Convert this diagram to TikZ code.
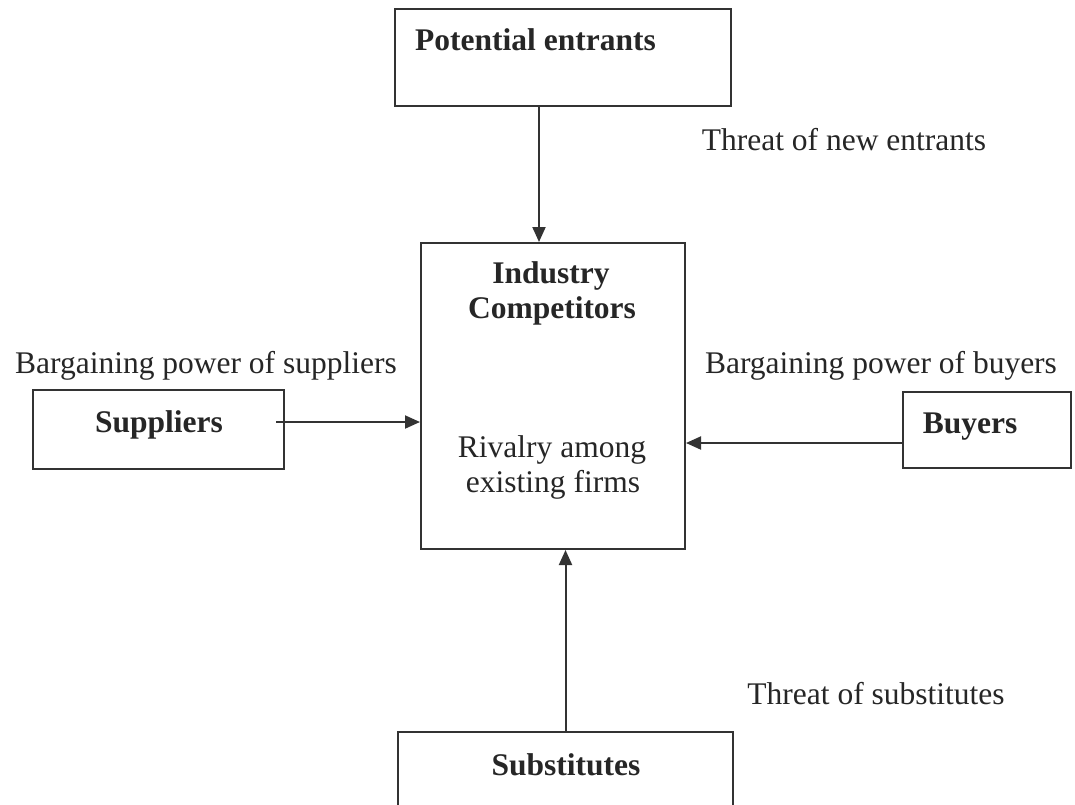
\documentclass[tikz,border=0pt]{standalone}
\usepackage{fontspec}
\setmainfont{Liberation Serif}
\usetikzlibrary{arrows.meta}
\definecolor{ink}{HTML}{262626}
\definecolor{linec}{HTML}{333333}
\begin{document}
\begin{tikzpicture}[x=1pt,y=-1pt,
  box/.style={draw=linec,line width=2pt,inner sep=0pt},
  lbl/.style={text=ink,font=\fontsize{31.5}{35}\selectfont,inner sep=0pt},
  blbl/.style={text=ink,font=\fontsize{31.5}{35}\selectfont\bfseries,inner sep=0pt},
  arr/.style={draw=linec,line width=2pt,-{Triangle[length=15pt,width=13pt]}}]
\useasboundingbox (0,0) rectangle (1075,804);
\fill[white] (0,0) rectangle (1075,804);
\clip (0,0) rectangle (1075,804);
% boxes
\node[box,minimum width=336pt,minimum height=97pt] (pe) at (563,57.5) {};
\node[box,minimum width=264pt,minimum height=306pt] (ic) at (553,396) {};
\node[box,minimum width=251pt,minimum height=79pt] (sup) at (158.5,429.5) {};
\node[box,minimum width=168pt,minimum height=76pt] (buy) at (987,430) {};
\node[box,minimum width=335pt,minimum height=100pt] (sub) at (565.5,782) {};
% box texts
\node[blbl,anchor=base west] (petxt) at (415,50) {Potential entrants};
\node[blbl,anchor=base] (ictxt1) at (551,283) {Industry};
\node[blbl,anchor=base] (ictxt2) at (552,318) {Competitors};
\node[lbl,anchor=base] (ictxt3) at (552,457) {Rivalry among};
\node[lbl,anchor=base] (ictxt4) at (553,492) {existing firms};
\node[blbl,anchor=base] (suptxt) at (159,432) {Suppliers};
\node[blbl,anchor=base] (buytxt) at (970,433) {Buyers};
\node[blbl,anchor=base] (subtxt) at (566,775) {Substitutes};
% force labels
\node[lbl,anchor=base] (l1) at (844,150) {Threat of new entrants};
\node[lbl,anchor=base] (l2) at (206,373) {Bargaining power of suppliers};
\node[lbl,anchor=base] (l3) at (881,373) {Bargaining power of buyers};
\node[lbl,anchor=base] (l4) at (876,704) {Threat of substitutes};
% connectors
\draw[arr] ([xshift=-24pt]pe.south) -- ([xshift=-14pt]ic.north);
\draw[arr] ([xshift=-9pt,yshift=7.5pt]sup.east) -- ([yshift=7.5pt]sup.east -| ic.west);
\draw[arr] ([yshift=-13pt]buy.west) -- ([yshift=-13pt]buy.west -| ic.east);
\draw[arr] (sub.north) -- (sub.north |- ic.south);
\end{tikzpicture}
\end{document}
